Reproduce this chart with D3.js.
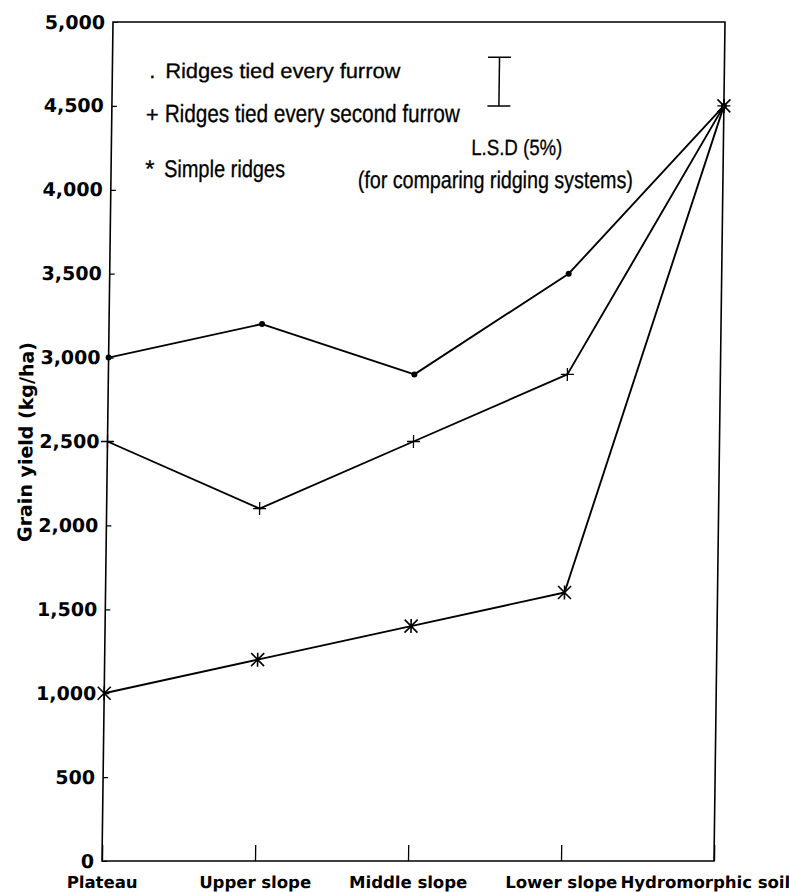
<!DOCTYPE html>
<html>
<head>
<meta charset="utf-8">
<script src="https://cdn.jsdelivr.net/npm/d3@7"></script>
<style>
  html, body { margin: 0; padding: 0; background: #fff; }
  svg { display: block; }
  .tick-label { font-family: "DejaVu Sans", sans-serif; font-weight: bold; fill: #000; }
  .note { font-family: "Liberation Sans", Arial, sans-serif; fill: #000; stroke: #000; stroke-width: 0.3px; }
</style>
</head>
<body>
<svg id="chart" width="789" height="892"></svg>
<script>
// Grain yield by toposequence position for three ridging systems
const categories = ["Plateau", "Upper slope", "Middle slope", "Lower slope", "Hydromorphic soil"];
const tiedEveryFurrow = [3000, 3200, 2900, 3500, 4500];
const tiedEverySecond = [2500, 2100, 2500, 2900, 4500];
const simpleRidges = [1000, 1200, 1400, 1600, 4500];
const yTicks = [0, 500, 1000, 1500, 2000, 2500, 3000, 3500, 4000, 4500, 5000];
const lsdValue = 290;      // L.S.D (5%) for comparing ridging systems
const lsdBase = 4500;

const W = 789, H = 892;
const plotLeft = 102, plotRight = 714, plotTop = 22, plotBottom = 861;

const svg = d3.select("#chart");

// slight shear of the whole drawing, anchored on the x axis
const s = 11 / 839;
const g = svg.append("g")
  .attr("transform", `translate(${s * plotBottom},0) skewX(${-Math.atan(s) * 180 / Math.PI})`);

const x = d3.scalePoint().domain(categories).range([plotLeft, plotRight]);
const y = d3.scaleLinear().domain([0, 5000]).range([plotBottom, plotTop]);

// frame
g.append("rect")
  .attr("x", plotLeft).attr("y", plotTop)
  .attr("width", plotRight - plotLeft).attr("height", plotBottom - plotTop)
  .attr("fill", "none").attr("stroke", "#000").attr("stroke-width", 1.6);

// y axis (inner ticks)
const yAxis = g.append("g")
  .attr("transform", `translate(${plotLeft},0)`)
  .call(d3.axisLeft(y).tickValues(yTicks).tickFormat(d3.format(",")).tickSizeInner(-5).tickSizeOuter(0).tickPadding(8));
yAxis.select(".domain").remove();
yAxis.selectAll("line").attr("stroke", "#000").attr("stroke-width", 1.2);
yAxis.selectAll("text").attr("class", "tick-label").style("font-size", "19px");

// x axis (inner ticks)
const xAxis = g.append("g")
  .attr("transform", `translate(0,${plotBottom})`)
  .call(d3.axisBottom(x).tickSizeInner(-16).tickSizeOuter(0).tickPadding(0));
xAxis.select(".domain").remove();
xAxis.selectAll("line").attr("stroke", "#000").attr("stroke-width", 1.3);
xAxis.selectAll("text")
  .attr("class", "tick-label")
  .style("font-size", "16.5px")
  .attr("y", 27)
  .attr("dy", 0)
  .each(function (d) {
    const t = d3.select(this);
    if (d === "Hydromorphic soil") t.attr("text-anchor", "end").attr("x", W + 1 - x(d));
  });

// y axis title
g.append("text")
  .attr("class", "tick-label")
  .attr("transform", `translate(27,442) rotate(-90)`)
  .attr("text-anchor", "middle")
  .style("font-size", "19px")
  .text("Grain yield (kg/ha)");

// lines
const line = d3.line().x((d, i) => x(categories[i])).y(d => y(d));
const series = [tiedEveryFurrow, tiedEverySecond, simpleRidges];
g.selectAll(".series")
  .data(series)
  .join("path")
  .attr("class", "series")
  .attr("d", line)
  .attr("fill", "none")
  .attr("stroke", "#000")
  .attr("stroke-width", 1.9)
  .attr("stroke-linejoin", "round");

// markers: dot
g.selectAll(".dot")
  .data(tiedEveryFurrow)
  .join("circle")
  .attr("class", "dot")
  .attr("cx", (d, i) => x(categories[i]))
  .attr("cy", d => y(d))
  .attr("r", 3)
  .attr("fill", "#000");

// markers: plus
g.selectAll(".plus")
  .data(tiedEverySecond)
  .join("path")
  .attr("class", "plus")
  .attr("d", (d, i) => {
    const cx = x(categories[i]), cy = y(d), r = 6.5;
    return `M${cx - r},${cy}H${cx + r}M${cx},${cy - r}V${cy + r}`;
  })
  .attr("stroke", "#000")
  .attr("stroke-width", 1.3)
  .attr("fill", "none");

// markers: asterisk
g.selectAll(".star")
  .data(simpleRidges)
  .join("path")
  .attr("class", "star")
  .attr("d", (d, i) => {
    const cx = x(categories[i]), cy = y(d), r = 6.5, v = 7;
    return `M${cx - r},${cy - r}L${cx + r},${cy + r}M${cx - r},${cy + r}L${cx + r},${cy - r}M${cx},${cy - v}V${cy + v}`;
  })
  .attr("stroke", "#000")
  .attr("stroke-width", 1.6)
  .attr("fill", "none");

// key (condensed lettering)
const key = [
  { sym: ".", symSize: 22, symX: 139, text: "Ridges tied every furrow", y: 78, size: 21, len: 235 },
  { sym: "+", symSize: 22, symX: 136, text: "Ridges tied every second furrow", y: 122, size: 25, len: 295 },
  { sym: "*", symSize: 24, symX: 136, text: "Simple ridges", y: 177, size: 24, len: 121 }
];
key.forEach(k => {
  g.append("text").attr("class", "note").attr("x", k.symX).attr("y", k.y)
    .style("font-size", k.symSize + "px").text(k.sym);
  g.append("text").attr("class", "note").attr("x", 155).attr("y", k.y)
    .attr("textLength", k.len).attr("lengthAdjust", "spacingAndGlyphs")
    .style("font-size", k.size + "px").text(k.text);
});

// L.S.D bar
const lsdX = 489, cap = 11.5;
const lsdG = g.append("g").attr("stroke", "#000").attr("stroke-width", 1.5);
lsdG.append("line").attr("x1", lsdX).attr("x2", lsdX).attr("y1", y(lsdBase + lsdValue)).attr("y2", y(lsdBase));
lsdG.append("line").attr("x1", lsdX - cap).attr("x2", lsdX + cap).attr("y1", y(lsdBase + lsdValue)).attr("y2", y(lsdBase + lsdValue));
lsdG.append("line").attr("x1", lsdX - cap).attr("x2", lsdX + cap).attr("y1", y(lsdBase)).attr("y2", y(lsdBase));

g.append("text").attr("class", "note").attr("x", 462).attr("y", 155)
  .attr("textLength", 91).attr("lengthAdjust", "spacingAndGlyphs")
  .style("font-size", "22px").text("L.S.D (5%)");
g.append("text").attr("class", "note").attr("x", 349).attr("y", 188)
  .attr("textLength", 275).attr("lengthAdjust", "spacingAndGlyphs")
  .style("font-size", "24px").text("(for comparing ridging systems)");
</script>
</body>
</html>
